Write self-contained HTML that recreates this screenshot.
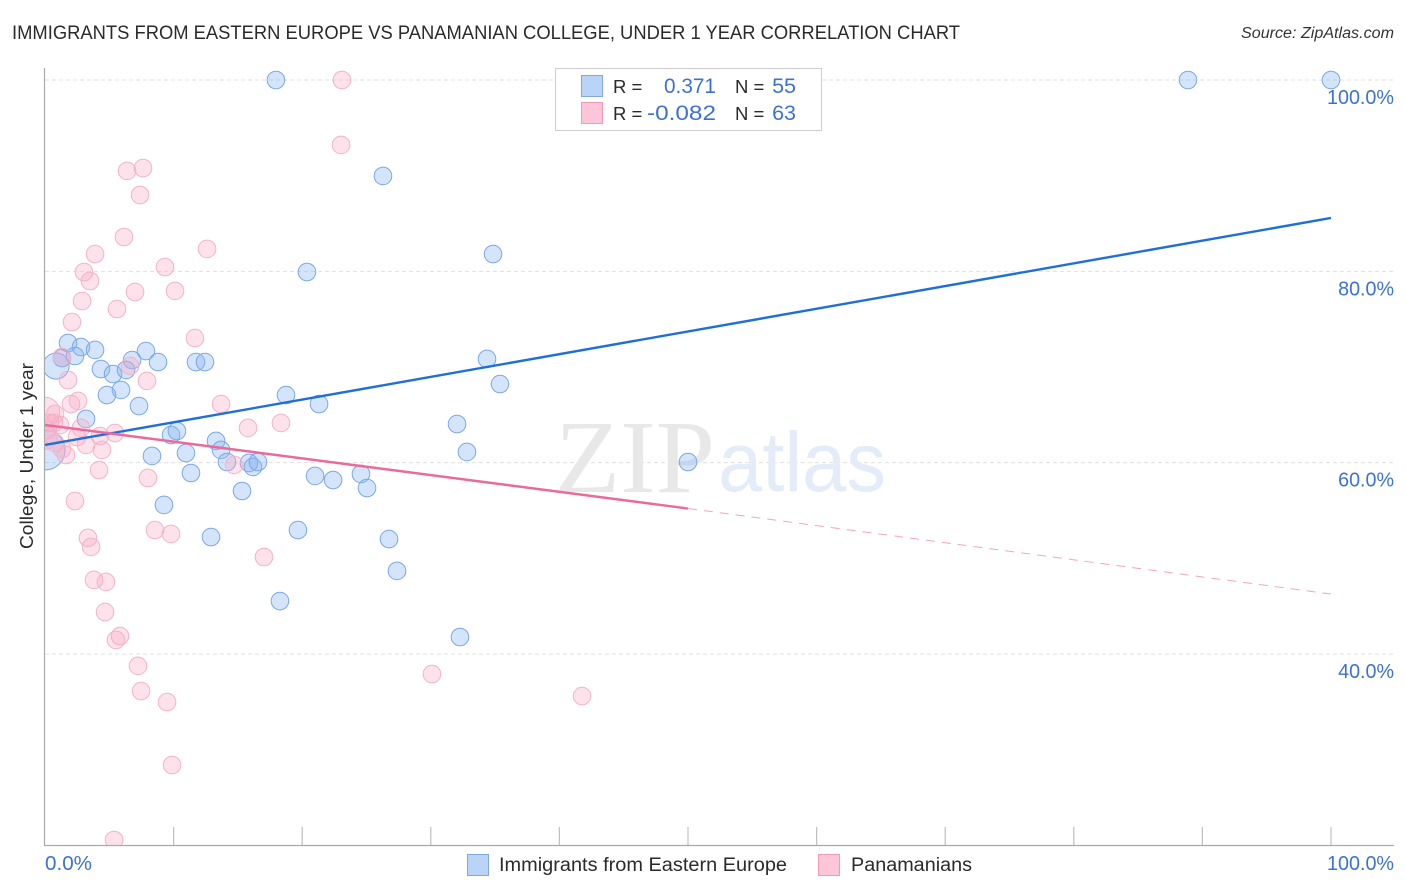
<!DOCTYPE html>
<html>
<head>
<meta charset="utf-8">
<title>Immigrants from Eastern Europe vs Panamanian College, Under 1 Year Correlation Chart</title>
<style>
html,body{margin:0;padding:0;background:#fff;}
svg{display:block;font-family:"Liberation Sans",sans-serif;}
</style>
</head>
<body>
<svg id="chart" width="1406" height="892" viewBox="0 0 1406 892" xmlns="http://www.w3.org/2000/svg">
  <defs><clipPath id="plot-clip"><rect x="45" y="60" width="1349" height="785.5"/></clipPath></defs>
  <text x="12" y="39" font-size="19" fill="#2a2a2a" textLength="948" lengthAdjust="spacingAndGlyphs">IMMIGRANTS FROM EASTERN EUROPE VS PANAMANIAN COLLEGE, UNDER 1 YEAR CORRELATION CHART</text>
  <text x="1394" y="38" font-size="15.5" font-style="italic" fill="#333" text-anchor="end" textLength="153" lengthAdjust="spacingAndGlyphs">Source: ZipAtlas.com</text>
  <g id="grid"></g>
  <g>
    <text x="555" y="492" font-family="'Liberation Serif',serif" font-size="104" fill="#e8e8e8" textLength="160" lengthAdjust="spacingAndGlyphs">ZIP</text>
    <text x="718" y="491" font-size="84" fill="#e4ecfa" textLength="168" lengthAdjust="spacingAndGlyphs">atlas</text>
  </g>
  <g id="points" clip-path="url(#plot-clip)"></g>
  <g id="trends"></g>
  <g id="axes"></g>
  <text transform="translate(33,549) rotate(-90)" font-size="18" fill="#2a2a2a" textLength="186" lengthAdjust="spacingAndGlyphs">College, Under 1 year</text>

  <g>
    <rect x="555.5" y="68.5" width="266" height="62" fill="#fff" stroke="#ccc"/>
    <rect x="581.5" y="75.5" width="21" height="21" fill="#b9d4f7" stroke="#7fa9e3"/>
    <rect x="581.5" y="102.5" width="21" height="21" fill="#fcc6d8" stroke="#ee9ab8"/>
    <text x="613" y="93" font-size="18.5" fill="#2a2a2a">R =</text>
    <text x="716" y="93" font-size="21.5" fill="#3c72cf" text-anchor="end" textLength="52" lengthAdjust="spacingAndGlyphs">0.371</text>
    <text x="735" y="93" font-size="18.5" fill="#2a2a2a">N =</text>
    <text x="796" y="93" font-size="21.5" fill="#3c72cf" text-anchor="end">55</text>
    <text x="613" y="120" font-size="18.5" fill="#2a2a2a">R =</text>
    <text x="716" y="120" font-size="21.5" fill="#3c72cf" text-anchor="end" textLength="69" lengthAdjust="spacingAndGlyphs">-0.082</text>
    <text x="735" y="120" font-size="18.5" fill="#2a2a2a">N =</text>
    <text x="796" y="120" font-size="21.5" fill="#3c72cf" text-anchor="end">63</text>
  </g>

  <g>
    <rect x="467.5" y="854.5" width="21" height="21" fill="#b9d4f7" stroke="#7fa9e3"/>
    <text x="499" y="871" font-size="19" fill="#2a2a2a" textLength="288" lengthAdjust="spacingAndGlyphs">Immigrants from Eastern Europe</text>
    <rect x="818.5" y="854.5" width="21" height="21" fill="#fcc6d8" stroke="#ee9ab8"/>
    <text x="851" y="871" font-size="19" fill="#2a2a2a" textLength="121" lengthAdjust="spacingAndGlyphs">Panamanians</text>
  </g>
</svg>
<script>
const xTickValues = [10, 20, 30, 40, 50, 60, 70, 80, 90, 100];
const yTickValues = [100, 80, 60, 40];
const yTickLabels = ['100.0%', '80.0%', '60.0%', '40.0%'];
const xEndLabels = ['0.0%', '100.0%'];

const blueX = [17.96,88.88,100,26.28,34.84,20.37,1.79,2.80,3.89,1.32,2.33,7.85,6.77,8.79,11.74,12.44,0.86,4.35,5.29,6.30,5.91,4.82,7.31,18.74,21.31,34.37,35.38,32.04,32.81,3.19,9.80,10.26,13.30,13.69,8.32,10.96,11.35,14.15,15.86,16.17,16.56,15.32,9.25,21.00,22.40,24.57,25.04,12.91,19.67,26.75,27.37,18.27,32.27,50.00,0];
const blueY = [100,100,100,89.97,81.81,79.93,72.51,72.09,71.78,70.94,71.15,71.67,70.73,70.52,70.52,70.52,70.10,69.79,69.27,69.69,67.60,67.07,65.92,67.07,66.13,70.84,68.22,64.04,61.12,64.57,62.89,63.31,62.27,61.33,60.70,61.01,58.92,60.07,59.97,59.55,60.07,57.04,55.58,58.61,58.19,58.82,57.35,52.23,52.96,52.02,48.68,45.54,41.78,60.07,61.33];
const blueWeight = [1,1,1,1,1,1,1,1,1,1,1,1,1,1,1,1,2.2,1,1,1,1,1,1,1,1,1,1,1,1,1,1,1,1,1,1,1,1,1,1,1,1,1,1,1,1,1,1,1,1,1,1,1,1,1,5.2];

const pinkX = [23.09,23.02,7.62,6.38,7.39,6.14,12.60,3.89,9.33,3.03,3.50,7.00,10.11,2.88,5.60,2.10,11.66,1.79,7.93,6.61,1.32,2.02,2.57,13.69,0,0.78,0.70,0.39,1.17,0.23,2.80,5.44,4.28,2.49,0.78,3.19,4.43,1.63,1.32,4.20,14.70,8.01,15.79,18.35,2.33,8.55,9.80,3.34,3.58,17.03,3.81,4.74,4.67,5.83,5.52,7.23,30.09,7.47,9.49,41.76,9.88,5.37,0];
const pinkY = [100,93.21,90.80,90.49,87.98,83.59,82.34,81.81,80.45,79.93,78.99,77.84,77.95,76.90,76.06,74.70,73.03,68.64,68.54,70.11,71.05,66.13,66.45,66.13,65.30,65.09,64.15,64.15,63.94,63.42,63.63,63.10,62.79,62.68,62.06,61.85,61.33,60.80,61.43,59.23,59.76,58.40,63.63,64.15,55.99,52.96,52.55,52.13,51.19,50.14,47.74,47.53,44.39,41.88,41.47,38.75,37.91,36.13,34.98,35.61,28.40,20.56,62.68];
const pinkWeight = [1,1,1,1,1,1,1,1,1,1,1,1,1,1,1,1,1,1,1,1,1,1,1,1,2.8,1,1,1,1,1,1,1,1,1,1,1,1,1,1,1,1,1,1,1,1,1,1,1,1,1,1,1,1,1,1,1,1,1,1,1,1,1,2];

const blueTrendX = [0, 100];
const blueTrendY = [61.85, 85.58];
const pinkTrendX = [0, 50];
const pinkTrendY = [63.94, 55.21];
const pinkDashX = [50, 100];
const pinkDashY = [55.21, 46.27];

const NS = 'http://www.w3.org/2000/svg';
function xScale(v) { return 45 + v * 12.86; }
function yScale(v) { return 80 + (100 - v) * 9.567; }
function make(tag, attrs, parent) {
  const el = document.createElementNS(NS, tag);
  for (const k in attrs) el.setAttribute(k, attrs[k]);
  parent.appendChild(el);
  return el;
}

const gridG = document.getElementById('grid');
const axesG = document.getElementById('axes');
const pointsG = document.getElementById('points');
const trendsG = document.getElementById('trends');

yTickValues.forEach(function (v, i) {
  const line = make('line', {x1: 45, x2: 1394, y1: yScale(v), y2: yScale(v), stroke: '#e0e0e0', 'stroke-width': 1, 'stroke-dasharray': '4 3'}, gridG);
  
  
  const label = make('text', {x: 1394, y: yScale(v) + 24, 'font-size': 20.3, fill: '#3c72cf', 'text-anchor': 'end', textLength: yTickLabels[i].length * 11.17, lengthAdjust: 'spacingAndGlyphs'}, axesG);
  label.textContent = yTickLabels[i];
  
  
});

xTickValues.forEach(function (v) {
  const tick = make('line', {x1: xScale(v), x2: xScale(v), y1: 827, y2: 846, stroke: '#c0c0c0', 'stroke-width': 1.2}, axesG);
  
  
});

const yAxisLine = make('line', {x1: 44.5, x2: 44.5, y1: 68, y2: 846, stroke: '#aaa', 'stroke-width': 1.2}, axesG);


const xAxisLine = make('line', {x1: 44, x2: 1394, y1: 845.5, y2: 845.5, stroke: '#aaa', 'stroke-width': 1.2}, axesG);



const xLabelLeft = make('text', {x: 45, y: 870, 'font-size': 20.3, fill: '#3c72cf', textLength: 47, lengthAdjust: 'spacingAndGlyphs'}, axesG);
xLabelLeft.textContent = xEndLabels[0];


const xLabelRight = make('text', {x: 1394, y: 870, 'font-size': 20.3, fill: '#3c72cf', 'text-anchor': 'end', textLength: 67, lengthAdjust: 'spacingAndGlyphs'}, axesG);
xLabelRight.textContent = xEndLabels[1];



blueX.forEach(function (v, i) {
  const c = make('circle', {cx: xScale(v), cy: yScale(blueY[i]), r: 8.8 * Math.sqrt(blueWeight[i]), fill: 'rgba(137,180,240,0.36)', stroke: '#7ca8e6', 'stroke-width': 1}, pointsG);
  
  
});
pinkX.forEach(function (v, i) {
  const c = make('circle', {cx: xScale(v), cy: yScale(pinkY[i]), r: 8.8 * Math.sqrt(pinkWeight[i]), fill: 'rgba(248,170,195,0.34)', stroke: '#f3b3c9', 'stroke-width': 1}, pointsG);
  
  
});

const blueTrend = make('line', {x1: xScale(blueTrendX[0]), y1: yScale(blueTrendY[0]), x2: xScale(blueTrendX[1]), y2: yScale(blueTrendY[1]), stroke: '#1f6fd8', 'stroke-width': 2.4}, trendsG);


const pinkTrend = make('line', {x1: xScale(pinkTrendX[0]), y1: yScale(pinkTrendY[0]), x2: xScale(pinkTrendX[1]), y2: yScale(pinkTrendY[1]), stroke: '#ea6a99', 'stroke-width': 2.4}, trendsG);


const pinkDash = make('line', {x1: xScale(pinkDashX[0]), y1: yScale(pinkDashY[0]), x2: xScale(pinkDashX[1]), y2: yScale(pinkDashY[1]), stroke: '#f3a5c0', 'stroke-width': 1, 'stroke-dasharray': '9 7'}, trendsG);


</script>
</body>
</html>
